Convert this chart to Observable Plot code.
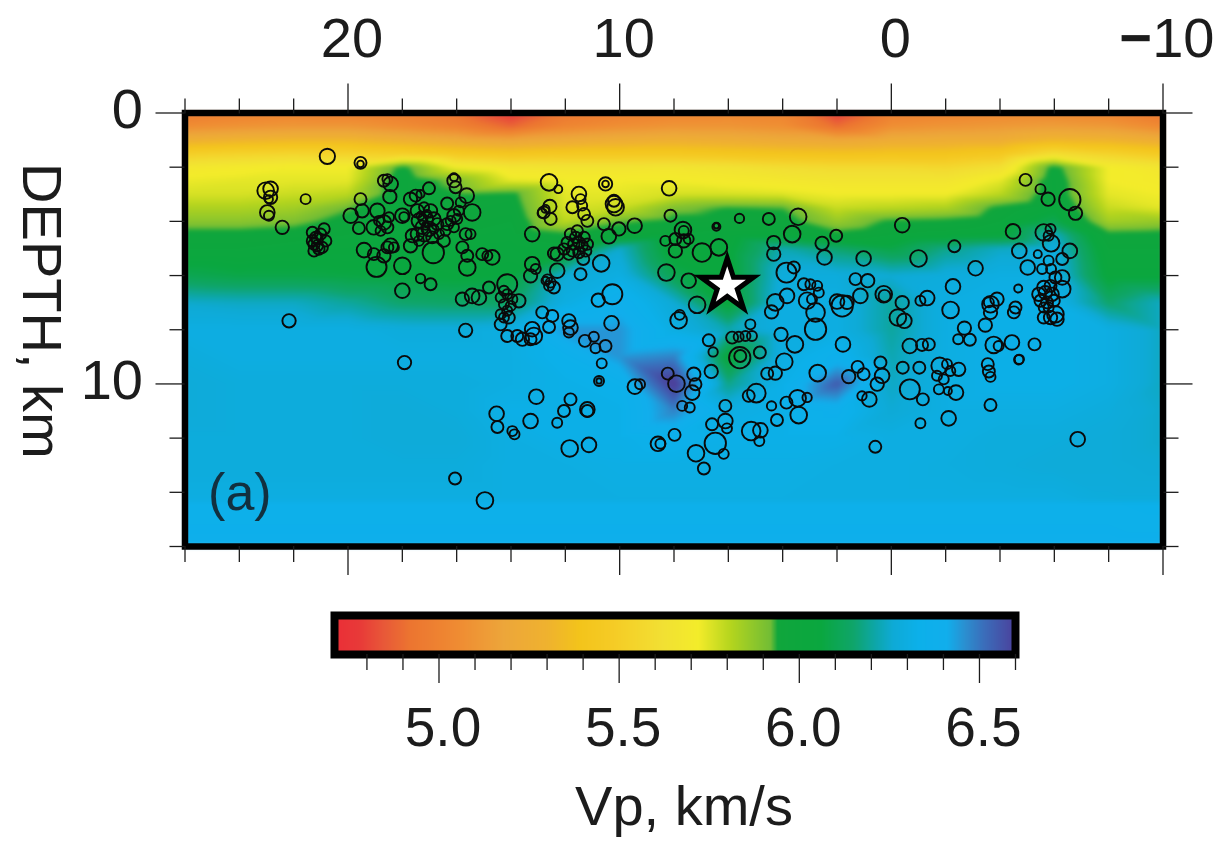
<!DOCTYPE html>
<html>
<head>
<meta charset="utf-8">
<script src="https://cdn.jsdelivr.net/npm/d3@7"></script>
<script src="https://cdn.jsdelivr.net/npm/@observablehq/plot@0.6"></script>
<style>
html,body{margin:0;padding:0;background:#fff}
svg{display:block}
</style>
</head>
<body>
<div id="chart"></div>
<script>
// Velocity model
const columns = [26,24,22,20,18,16,14,12,10,8,6,4,2,0,-2,-4,-6,-8,-10];
const depths = [0,0.5,1,1.5,2,2.5,3,3.5,4,4.5,5,6,7,8,9,10,11,12,13,14.3,14.4,16];
const vpRows = [
[4.95,4.99,5.01,4.99,4.97,4.91,4.76,4.93,4.98,5.01,5.03,5.01,4.78,4.98,5.01,5.03,5.03,5.01,4.92],
[5.06,5.09,5.11,5.11,5.06,5.0,4.88,5.02,5.07,5.1,5.1,5.07,4.9,5.07,5.1,5.12,5.14,5.12,5.04],
[5.27,5.3,5.32,5.32,5.27,5.22,5.18,5.22,5.25,5.27,5.25,5.22,5.2,5.24,5.25,5.25,5.32,5.3,5.24],
[5.5,5.53,5.55,5.53,5.5,5.45,5.42,5.44,5.44,5.44,5.42,5.4,5.39,5.4,5.4,5.44,5.6,5.53,5.46],
[5.68,5.7,5.72,5.72,5.96,5.72,5.66,5.65,5.65,5.66,5.64,5.6,5.58,5.58,5.56,5.62,5.97,5.72,5.66],
[5.73,5.74,5.74,5.74,6.0,5.9,5.74,5.72,5.72,5.72,5.7,5.68,5.66,5.66,5.66,5.74,6.0,5.72,5.7],
[5.76,5.76,5.78,5.8,6.0,5.94,5.96,5.74,5.74,5.76,5.76,5.75,5.72,5.72,5.72,5.8,6.0,5.74,5.72],
[5.82,5.82,5.84,5.92,6.02,5.96,5.98,5.76,5.78,5.9,5.94,5.93,5.78,5.8,5.82,5.96,6.04,5.78,5.74],
[5.88,5.88,5.9,5.97,6.02,5.98,6.0,5.8,5.92,5.96,5.97,5.97,5.86,5.95,5.96,6.0,6.1,5.84,5.86],
[5.97,5.97,5.98,6.0,6.03,6.0,6.02,5.96,5.98,6.0,6.02,6.02,5.96,6.0,6.02,6.04,6.24,5.96,5.97],
[6.0,6.0,6.02,6.03,6.04,6.03,6.04,6.02,6.25,6.02,6.04,6.22,6.15,6.08,6.18,6.24,6.28,6.0,6.0],
[6.1,6.08,6.08,6.07,6.06,6.05,6.06,6.26,6.3,6.1,6.04,6.28,6.28,6.26,6.28,6.3,6.3,6.04,6.04],
[6.25,6.24,6.24,6.2,6.15,6.14,6.14,6.3,6.38,6.26,6.04,6.3,6.3,6.2,6.3,6.32,6.32,6.15,6.24],
[6.3,6.3,6.3,6.3,6.28,6.28,6.3,6.45,6.45,6.3,6.22,6.3,6.3,6.2,6.3,6.32,6.32,6.3,6.24],
[6.28,6.3,6.3,6.3,6.3,6.3,6.3,6.34,6.45,6.48,6.04,6.3,6.36,6.22,6.3,6.32,6.32,6.3,6.24],
[6.27,6.28,6.28,6.28,6.28,6.28,6.3,6.32,6.34,6.62,6.18,6.32,6.55,6.24,6.3,6.32,6.32,6.3,6.24],
[6.27,6.28,6.28,6.28,6.27,6.28,6.32,6.32,6.32,6.48,6.3,6.32,6.36,6.26,6.3,6.3,6.3,6.28,6.25],
[6.28,6.28,6.28,6.28,6.27,6.27,6.3,6.32,6.32,6.34,6.32,6.32,6.32,6.3,6.3,6.28,6.28,6.27,6.25],
[6.28,6.28,6.28,6.28,6.28,6.28,6.3,6.3,6.31,6.31,6.31,6.31,6.3,6.3,6.29,6.28,6.27,6.27,6.26],
[6.3,6.3,6.3,6.3,6.3,6.3,6.3,6.3,6.3,6.3,6.3,6.3,6.3,6.3,6.3,6.3,6.3,6.28,6.28],
[6.34,6.34,6.34,6.34,6.34,6.34,6.34,6.34,6.34,6.34,6.34,6.34,6.34,6.34,6.34,6.34,6.34,6.34,6.33],
[6.36,6.36,6.36,6.36,6.36,6.36,6.36,6.36,6.36,6.36,6.36,6.36,6.36,6.36,6.36,6.36,6.36,6.36,6.36]
];
const vpStops = [4.72,4.78,4.85,4.92,5.05,5.18,5.3,5.39,5.48,5.62,5.72,5.81,5.92,5.94,6.06,6.15,6.21,6.26,6.33,6.41,6.46,6.51,6.59,6.75];
const vpColors = ["#ea3037","#e83a38","#e85a38","#ec7530","#ef8b32","#eda63a","#efb22f","#f3c41b","#f5cb25","#f2e033","#f3ec2a","#b4d51e","#72bd35","#10a63c","#0aa73f","#0fa56a","#0da6a8","#0eaad6","#0cb0ea","#11aeec","#2b8fd0","#3a6fbc","#4a459f","#5a1f80"];

// Earthquakes: [distance, depth, relative size]
const quakesFarWest = [
[20.76,1.6,2.1],[19.54,1.84,1.6],[19.54,1.88,0.8],[23.03,2.87,2.3],[22.85,2.8,2],[22.85,3.11,1.8],[22.91,3.18,1],[22.97,3.67,2],[22.91,3.79,1.3],
[21.56,3.18,1.3],[22.42,4.22,1.8],[21.31,4.41,1.5],[20.88,4.28,1.5],[21.13,4.65,1.5],[21.25,4.84,1.5],[21.07,5.02,1.5],[20.82,4.72,1.5],[21.19,4.59,1.5],
[21.01,4.47,1.5],[21.31,4.72,1.5],[21.13,4.9,1.5],[20.95,4.96,1.5],[21.25,5.09,1.5],[22.17,7.67,1.8],[19.54,3.18,1.6],[19.48,3.61,1.8],[19.9,3.79,2],
[19.6,4.25,1.6],[18.92,3.61,2],[18.68,2.5,1.6],[18.43,2.62,2],[18.55,2.44,1.3],[18.46,3.09,1.8],[19.05,4.22,2],[18.68,4.04,2],[18.55,4.22,1.6],
[18.8,4.35,1.3],[18.49,3.85,1.3],[18.86,3.98,1.3],[18,3.79,2],[17.94,3.83,1.2],[18.43,4.9,2],[18.55,4.96,1.6],[18.31,4.96,1.3],[19.41,5.06,2],
[19.05,5.21,1.6],[18.68,5.27,1.8],[18.95,5.68,2.8],[18,5.64,2.3],[18,6.56,2],[17.92,9.21,1.8]
];
const quakesWest = [
[17.02,2.78,1.6],[17.51,3.05,1.6],[17.7,3.18,1.8],[17.33,2.99,1],[16.1,2.5,1.8],[16.04,2.74,1.6],[16.1,2.37,1],[15.63,3.05,2],[15.43,3.67,2.3],
[16.35,3.34,1.6],[15.85,3.3,1.3],[17.7,4.9,1.8],[17.63,4.53,1.8],[16.86,5.15,3],[16.47,4.72,1.6],[17.45,3.61,1.8],[17.2,3.48,1.3],[16.96,3.61,1.8],
[17.39,3.98,2],[17.14,3.91,2],[16.84,3.91,1.8],[17.27,4.22,1.8],[17.02,4.28,2],[16.71,4.1,1.6],[17.2,4.47,2],[16.9,4.59,1.6],[17.45,4.47,1.8],
[17.08,3.73,1],[17.33,3.79,1],[16.84,4.28,1.2],[17.14,4.16,1],[17.39,4.72,1.3],[16.65,4.47,1.3],[16.35,4.1,1.6],[16.1,3.79,1.8],[15.98,3.91,1.3],
[16.22,3.98,1.3],[15.92,3.61,1.3],[16.1,4.22,1.3],[16.41,4.35,1.3],[15.79,4.96,1.6],[15.67,4.47,1.6],[15.49,4.47,1.3],[15.61,5.27,1.6],[15.61,5.7,2.3],
[15.06,5.21,1.6],[14.69,5.33,2],[14.87,5.27,1.3],[17.33,6.11,1.2],[16.96,6.32,1.6],[15.67,8.02,1.8],[14.81,6.44,1.6],[15.79,6.87,1.8],[15.43,6.75,2],[15.18,6.81,2]
];
const quakesWestDeep = [
[14.14,6.32,2.8],[14.26,6.56,1.3],[14.38,6.81,1.3],[14.14,6.69,1.3],[13.95,6.87,1.3],[14.26,7.06,1.3],[14.01,7.12,1.3],[13.71,6.93,1.8],[14.14,7.3,1.3],
[14.38,7.43,1.3],[14.08,7.55,1.6],[14.26,7.55,1.3],[14.38,7.8,1.6],[14.14,8.23,1.6],[13.77,8.23,1.6],[13.58,8.35,1.8],[13.22,7.98,2],[13.16,8.23,2.3],
[13.28,8.35,1.6],[12.85,7.36,1.6],[12.48,7.49,1.6],[12.6,7.9,1.6],[11.87,7.67,1.8],[11.81,7.92,2],[11.87,8.1,1.3],[11.28,8.41,1.6],[10.95,8.26,1.3],
[10.89,8.68,1.3],[10.52,8.6,1.6],[10.66,9.24,1.3],[10.3,7.76,2],[10.27,6.69,2.8],[10.79,6.91,1.8],[10.68,5.55,2.3],[11.44,5.95,1.6],
[13.07,10.47,2],[11.81,10.57,1.6],[12.05,11,1.6],[12.3,11.43,1.3],[11.19,10.94,2],[11.19,11,1.6],[13.28,11.37,2],[14.53,11.1,2],[14.5,11.59,1.6],
[13.95,11.74,1.3],[13.87,11.86,1.3],[11.84,12.38,2.3],[11.13,12.25,2],[8.59,12.21,2],[10.76,9.89,1.3],[10.76,9.89,0.6],[16.06,13.49,1.6],[14.96,14.3,2.3],
[9.44,10.1,2],[9.25,10.01,1.3]
];
const quakesCentralWest = [
[13.22,4.47,2],[12.6,2.56,2.3],[12.26,2.81,1],[11.5,2.99,2],[11.44,3.18,1.3],[12.79,3.67,1.6],[12.85,3.7,1.2],[12.73,3.54,1],[12.57,3.45,1.8],[12.54,3.91,1.6],
[11.74,3.48,1.6],[11.38,3.42,1.3],[11.31,3.73,1.6],[11.19,3.98,1.6],[10.52,2.62,1.8],[10.52,2.62,0.8],[10.21,3.36,2.3],[10.15,3.48,2.3],[10.21,3.24,1.6],
[10.58,4.1,1.6],[10.4,4.55,2],[10.03,4.28,1.8],[9.45,4.16,2],[11.81,4.47,1.5],[11.56,4.35,1.5],[11.31,4.59,1.5],[11.93,4.78,1.5],[11.69,4.84,1.5],
[11.38,4.9,1.5],[12.05,5.02,1.5],[11.74,5.09,1.5],[11.5,5.15,1.5],[11.19,4.84,1.5],[11.62,4.59,1.5],[11.87,5.21,1.5],[11.25,5.09,1.5],[11.5,4.78,1.5],
[12.3,5.21,1.8],[12.42,5.18,1.6],[11.34,5.39,1.6],[12.3,5.82,2],[13.22,5.58,2],[13.28,6.01,1.8],[13.09,5.76,1.3],[12.66,6.13,1.2],[12.6,6.38,1.3],
[12.54,6.26,1.3],[12.42,6.44,1.6],[12.73,6.19,1]
];
const quakesCentre = [
[8.18,2.78,2],[8.13,3.79,1.6],[7.67,4.32,2.3],[7.64,4.35,1.3],[8.32,4.72,1.3],[7.95,4.65,1.6],[7.64,4.72,1.8],[7.46,4.65,1.3],[7.95,5.09,1.8],[6.97,5.15,2.6],
[6.35,4.96,2.3],[8.28,5.89,2.3],[7.46,6.19,2],[6.44,4.2,1],[6.44,4.16,0.6],[5.59,3.89,1.2],[4.51,3.91,1.6],[3.43,3.83,2.3],[3.65,4.47,2.3],[4.33,4.78,1.8],
[4.33,5.21,1.8],[2.55,4.81,1.8],[2.03,4.53,1.6],[2.46,5.33,2],[1.02,5.37,2],[-0.4,4.14,2],[-1,5.37,2.3],[-2.32,4.92,1.6],[-3.1,5.73,2],[3.86,5.89,2.8],
[3.59,5.7,1.6],[3.22,6.32,1.6],[2.98,6.32,1.3],[2.73,6.38,1.3],[2.67,6.63,1.3],[3.1,6.93,2.3],[2.92,6.87,1.3],[2.79,7.36,2.6],[4.27,6.99,2.3],[3.84,6.75,2],
[4.41,7.34,1.8],[2.79,7.98,3],[2,6.96,2],[1.81,7.12,3],[1.63,6.99,1.8],[1.32,6.13,1.6],[0.87,6.19,1.8],[1.14,6.75,2],[0.28,6.69,2.3],[0.25,6.75,1.6],
[-0.4,7,1.8],[-1.07,6.93,1.3],[-1.32,6.83,2],[-0.24,7.55,2.3],[-0.48,7.67,2],[-0.68,8.6,2],[-1.13,8.56,1.6],[-1.38,8.54,1.6],[1.78,8.54,2],[3.55,8.54,2.3],
[4.06,8.17,1.8],[4.84,8.84,1.6],[7.79,7.45,1.3],[7.83,7.65,2.3],[7.15,7.08,2.3],[6.72,8.39,1.6],[6.56,8.82,1.2],[5.19,7.8,1.3],[5.86,8.29,1.6],[5.62,8.26,1.3],
[5.37,8.23,1.3],[5.13,8.23,1.3],[5.58,9.03,3],[5.56,8.97,1.6],[3.94,9.18,2.3]
];
const quakesCentreDeep = [
[8.23,9.62,1.6],[7.91,9.99,2.3],[7.27,9.64,1.8],[7.21,10.01,1.6],[7.33,10.32,2],[6.63,9.54,1.8],[7.7,10.81,1.3],[7.42,10.87,1.3],[7.98,11.88,1.6],[8.5,12.21,1.3],
[6.11,10.81,1.6],[6.11,11.37,2],[6.6,11.49,1.6],[6.05,11.64,1.3],[6.48,12.19,3],[6.17,12.58,1.3],[7.19,12.56,2.3],[6.9,13.12,1.6],[4.57,9.62,1.6],[4.27,9.6,1.8],
[5.25,10.44,1.6],[4.97,10.34,2.6],[4.41,10.81,1.2],[3.86,10.69,1.6],[3.45,10.53,2.3],[3.1,10.5,1.2],[3.41,11.15,2.3],[4.21,11.33,1.6],[5.16,11.74,2.6],[4.82,11.71,2],
[4.86,12.11,1.3],[2.71,9.6,2.3],[1.57,9.73,1.8],[1.24,9.37,1.6],[1.02,9.64,1.6],[0.4,9.21,1.6],[0.34,9.7,2],[0.52,10.01,1.8],[1.08,10.44,1.2],[0.81,10.57,2],
[-0.42,9.4,1.6],[-1.03,9.4,1.6],[-0.68,10.2,2.8],[-1.16,10.57,1.6],[-1.07,11.45,1.3],[-2.11,11.27,2],[0.59,12.32,1.6],[-1.78,9.33,2.3],[-2.05,9.27,1.3],[-2.48,9.46,1.8],
[-2.17,9.52,1.3],[-1.68,9.7,1.3],[-1.93,9.83,1.3],[-1.75,10.2,1.3],[-2.08,10.26,1],[-2.38,10.32,2],[-3.55,9.27,1.6],[-3.59,9.54,1.6],[-3.65,9.74,1.3],[-3.65,10.78,1.6],
[-4.69,9.11,1.2],[-6.86,12.04,2]
];
const quakesEast = [
[-4.94,2.47,1.6],[-5.49,2.81,1.3],[-5.77,3.18,1.8],[-6.57,3.2,3],[-6.78,3.7,1.8],[-4.48,4.37,2],[-5.61,4.41,2.3],[-5.86,4.28,1.3],[-5.79,4.53,1.3],[-5.88,4.81,2.3],
[-4.71,5.09,2],[-6.57,5.09,2],[-5.39,5.21,1],[-6.29,5.39,1.6],[-5.79,5.45,1.3],[-5.02,5.7,2],[-5.55,5.76,1.3],[-5.88,5.76,1.3],[-4.67,6.48,1],[-6.29,6.07,2],
[-6.04,6.07,1.6],[-6.29,6.5,2.3],[-5.61,6.44,1.8],[-5.86,6.38,1.6],[-5.43,6.69,1.8],[-5.67,6.63,1.8],[-5.92,6.69,1.8],[-5.49,6.93,1.6],[-5.73,6.99,1.6],[-5.98,6.93,1.6],
[-5.61,7.18,1.3],[-5.79,7.18,1.3],[-6.04,7.43,2.3],[-5.61,7.55,1.6],[-5.86,7.55,1.8],[-6.1,7.61,1.8],[-2.27,6.4,2],[-2.18,7.27,2.3],[-3.65,7.06,2.3],[-3.89,6.87,1.8],
[-3.65,7.36,1.8],[-3.59,6.99,1.3],[-4.57,7.18,1.6],[-4.51,7.36,1.6],[-2.69,7.94,1.8],[-3.46,7.83,1.8],[-2.46,8.35,1.3],[-2.89,8.37,1.6],[-3.77,8.56,2.3],[-3.95,8.6,1.3],
[-4.44,8.47,2],[-5.27,8.54,1.6],[-4.71,9.09,1.2]
];
const mainShock = [[6.04,6.38]];

const xMajor = [20,10,0,-10];
const xMinor = [26,24,22,18,16,14,12,8,6,4,2,-2,-4,-6,-8];
const yMajor = [0,10];
const yMinor = [2,4,6,8,12,14,16];
const barMajor = [5,5.5,6,6.5];
const barMinor = [4.8,4.9,5.1,5.2,5.3,5.4,5.6,5.7,5.8,5.9,6.1,6.2,6.3,6.4,6.6];

const field = vpRows.flatMap((row, i) => row.map((vp, j) => ({x: columns[j], y: depths[i], vp})));
const quakes = [...quakesFarWest, ...quakesWest, ...quakesWestDeep, ...quakesCentralWest, ...quakesCentre, ...quakesCentreDeep, ...quakesEast];
const colorScale = {type: "linear", domain: vpStops, range: vpColors, clamp: true};
const ink = "#1c1c1c";
const font = "'Liberation Sans', Arial, sans-serif";
const noLabel = () => "";

const main = Plot.plot({
  width: 1227, height: 600,
  marginTop: 112.5, marginLeft: 184.5, marginRight: 64.5, marginBottom: 54,
  style: {fontFamily: font, background: "#fff", overflow: "visible"},
  x: {domain: [26,-10], axis: null},
  y: {domain: [0,16], reverse: true, axis: null},
  color: colorScale,
  r: {type: "linear", domain: [0.6,3], range: [2.67,10.67]},
  marks: [
    Plot.raster(field, {x: "x", y: "y", fill: "vp", interpolate: "barycentric", pixelSize: 1, imageFilter: "blur(2px)"}),
    Plot.dot(quakes, {x: d => d[0], y: d => d[1], r: d => d[2], stroke: "#0a0a0a", strokeWidth: 1.9, fill: "none"}),
    Plot.dot(mainShock, {x: d => d[0], y: d => d[1], symbol: "star", r: 16.5, fill: "#fff", stroke: "#000", strokeWidth: 5}),
    Plot.text(["(a)"], {x: 25.15, y: 14.65, textAnchor: "start", fontSize: 52, fill: "#12303f", lineAnchor: "bottom"}),
    Plot.frame({stroke: "#000", strokeWidth: 6.5}),
    Plot.axisX({anchor: "top", ticks: xMajor, tickSize: 0, tickPadding: 56, dx: 4, fontSize: 56, fill: ink, tickFormat: d => d < 0 ? "\u2212" + (-d) : String(d), label: null}),
    Plot.axisX({anchor: "top", ticks: xMajor, tickSize: 30, tickFormat: noLabel, stroke: ink, strokeWidth: 1.3, label: null}),
    Plot.axisX({anchor: "top", ticks: xMinor, tickSize: 15, tickFormat: noLabel, stroke: ink, strokeWidth: 1.3, label: null}),
    Plot.axisX({anchor: "bottom", ticks: xMajor, tickSize: 29, tickFormat: noLabel, stroke: ink, strokeWidth: 1.3, label: null}),
    Plot.axisX({anchor: "bottom", ticks: xMinor, tickSize: 16, tickFormat: noLabel, stroke: ink, strokeWidth: 1.3, label: null}),
    Plot.axisY({anchor: "left", ticks: yMajor, tickSize: 0, tickPadding: 46, dx: 4, dy: -3, fontSize: 56, fontFamily: "'Liberation Sans Narrow','Liberation Sans',sans-serif", fill: ink, label: null}),
    Plot.axisY({anchor: "left", ticks: yMajor, tickSize: 29, tickFormat: noLabel, stroke: ink, strokeWidth: 1.3, label: null}),
    Plot.axisY({anchor: "left", ticks: yMinor, tickSize: 15, tickFormat: noLabel, stroke: ink, strokeWidth: 1.3, label: null}),
    Plot.axisY({anchor: "right", ticks: yMajor, tickSize: 29, tickFormat: noLabel, stroke: ink, strokeWidth: 1.3, label: null}),
    Plot.axisY({anchor: "right", ticks: yMinor, tickSize: 15, tickFormat: noLabel, stroke: ink, strokeWidth: 1.3, label: null}),
    Plot.text(["DEPTH, km"], {x: 26, y: 1.85, dx: -162, rotate: 90, textAnchor: "start", lineAnchor: "bottom", fontSize: 56, fill: ink})
  ]
});

const bar = Plot.plot({
  width: 1227, height: 241,
  marginTop: 15, marginLeft: 334, marginRight: 212, marginBottom: 187,
  style: {fontFamily: font, background: "#fff", overflow: "visible"},
  x: {domain: [4.71,6.6], axis: null},
  y: {domain: [0,1], axis: null},
  color: colorScale,
  marks: [
    Plot.raster({fill: (x) => x, x1: 4.71, x2: 6.6, y1: 0, y2: 1, pixelSize: 1}),
    Plot.frame({stroke: "#000", strokeWidth: 8}),
    Plot.axisX({anchor: "bottom", ticks: barMajor, tickSize: 0, tickPadding: 52, dx: 4, fontSize: 55, fill: ink, tickFormat: d3.format(".1f"), label: null}),
    Plot.axisX({anchor: "bottom", ticks: barMajor, tickSize: 29, tickFormat: noLabel, stroke: ink, strokeWidth: 1.3, label: null}),
    Plot.axisX({anchor: "bottom", ticks: barMinor, tickSize: 16, tickFormat: noLabel, stroke: ink, strokeWidth: 1.3, label: null}),
    Plot.text(["Vp, km/s"], {x: 5.68, y: 0, dy: 170, lineAnchor: "bottom", fontSize: 56, fill: ink})
  ]
});

document.getElementById("chart").append(main, bar);

// the reference sets the minus sign of the last top label in a heavier weight
main.querySelectorAll("text").forEach(t => {
  if (t.textContent === "\u221210") {
    t.innerHTML = '<tspan font-weight="bold">\u2212</tspan>10';
  }
});
</script>
</body>
</html>
